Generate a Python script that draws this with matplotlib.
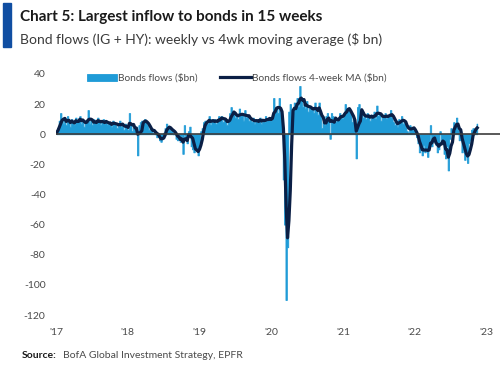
import numpy as np
import pandas as pd
import matplotlib
matplotlib.use("Agg")
import matplotlib.pyplot as plt
import matplotlib.dates as mdates
from matplotlib.patches import Rectangle

plt.rcParams["font.family"] = ["Lato", "DejaVu Sans"]
plt.rcParams["axes.unicode_minus"] = False

###############################################################################
# DATA: weekly bond flows ($bn), one list per year
###############################################################################
flows_2017 = [1, 4, 9, 14, 10, 7, 11, 6, 12, 8, 5, 10, 9,
              6, 11, 8, 9, 12, 7, 10, 5, 9, 8, 16, 7, 9,
              6, 10, 8, 7, 11, 9, 6, 8, 10, 7, 9, 6, 8,
              7, 5, 9, 8, 6, 4, 7, 9, 5, 6, 3, 7, 5]
flows_2018 = [3, 14, 6, 2, 4, 5, 5, -14, 6, 8, 9, 7, 10,
              9, 6, 3, 4, 2, 1, 3, 0, -2, -1, -4, -5, -2,
              1, 4, 7, 3, 5, 2, 3, 0, 2, -3, -4, -2, -5,
              -1, -13, 6, -4, -6, 2, 5, -8, -10, -12, -9, -11, -14]
flows_2019 = [-6, 2, 4, 8, 9, 9, 7, 12, 6, 10, 8, 10, 7,
              9, 12, 10, 12, 8, 11, 9, 6, 8, 14, 18, 12, 15,
              11, 13, 10, 17, 12, 14, 9, 16, 11, 13, 9, 10, 8,
              11, 7, 10, 8, 9, 11, 7, 10, 8, 12, 9, 10, 11]
flows_2020 = [9, 12, 24, 15, 18, 14, 24, 13, 9, -30, -60, -110, -75,
              15, 20, 12, 16, 21, 19, 24, 18, 32, 22, 18, 20, 17,
              22, 15, 19, 16, 18, 14, 21, 15, 13, 21, 12, 4, 8,
              6, 12, 14, 11, -3, 14, 12, 9, 8, 10, 11, 14, 12]
flows_2021 = [10, 14, 20, 15, 17, 16, 14, 8, 10, 6, -16, 18, 20,
              13, 14, 11, 13, 10, 14, 12, 9, 13, 11, 15, 10, 19,
              12, 14, 9, 13, 11, 14, 10, 12, 13, 16, 11, 8, 6,
              9, 5, 10, 8, 12, 7, 9, 5, 2, 1, 6, 5, 3]
flows_2022 = [3, 1, -2, -6, -12, -9, -14, -7, -12, -9, -15, -6, 6,
              -8, -5, -3, -7, -12, -10, 2, -6, -4, -13, -16, -8, -24,
              -3, 4, 2, 8, 5, 11, 3, -4, 2, -12, -10, -17, -12,
              -19, -6, -4, 3, 4, 2, 4, 7]

first_week = "2017-01-04"
y_ticks = [40, 20, 0, -20, -40, -60, -80, -100, -120]
legend_labels = ["Bonds flows ($bn)", "Bonds flows 4-week MA ($bn)"]

weekly = pd.Series(flows_2017 + flows_2018 + flows_2019 +
                   flows_2020 + flows_2021 + flows_2022, dtype=float)
dates = pd.date_range(first_week, periods=len(weekly), freq="7D")
weekly.index = dates
ma4 = weekly.rolling(4, min_periods=1).mean()

###############################################################################
# PLOT
###############################################################################
light_blue = "#1F9BD7"
navy = "#0B1F45"
grey_txt = "#4A4A4A"

fig = plt.figure(figsize=(5.0, 3.68), dpi=100)
ax = fig.add_axes([0.112, 0.144, 0.888, 0.655])

# weekly columns drawn as one stepped area (no seams between weeks)
bars = ax.fill_between(dates, 0, weekly.values, step="mid",
                       color=light_blue, linewidth=0.6, edgecolor=light_blue)
ma_line, = ax.plot(dates, ma4.values, color=navy, lw=2.3)
ax.axhline(0, color="#3C3C3C", lw=1.2, zorder=3)

ax.set_ylim(-120, 40)
ax.set_xlim(pd.Timestamp("2017-01-01"), pd.Timestamp("2023-03-12"))
ax.set_yticks(y_ticks)
ax.set_yticklabels([str(v) for v in y_ticks])
ax.xaxis.set_major_locator(mdates.YearLocator())
ax.xaxis.set_major_formatter(mdates.DateFormatter("'%y"))
ax.tick_params(axis="both", length=0, labelsize=7.5, colors=grey_txt)
ax.tick_params(axis="y", pad=7.5)
ax.tick_params(axis="x", pad=9)
for s in ax.spines.values():
    s.set_visible(False)

fig.legend([bars, ma_line], legend_labels, loc="center left",
           bbox_to_anchor=(0.164, 0.788), ncol=2, frameon=False,
           fontsize=7.3, handlelength=3.0, handletextpad=0.1,
           columnspacing=2.2, borderpad=0, labelcolor=grey_txt)

# header
fig.add_artist(Rectangle((0.006, 1 - 47 / 368), 0.016, 44 / 368,
                         transform=fig.transFigure, color="#104EA2"))
fig.text(0.04, 0.953, "Chart 5: Largest inflow to bonds in 15 weeks",
         fontsize=11, fontweight="bold", color="#1A1A1A", va="center")
fig.text(0.04, 0.893, "Bond flows (IG + HY): weekly vs 4wk moving average ($ bn)",
         fontsize=10, color="#3A3A3A", va="center")

# source
fig.text(0.044, 0.033, "Source:", fontsize=7.5, fontweight="bold",
         color="#1A1A1A", va="center")
fig.text(0.126, 0.033, "BofA Global Investment Strategy, EPFR",
         fontsize=7.5, color=grey_txt, va="center")

fig.savefig("out.png", dpi=100)
